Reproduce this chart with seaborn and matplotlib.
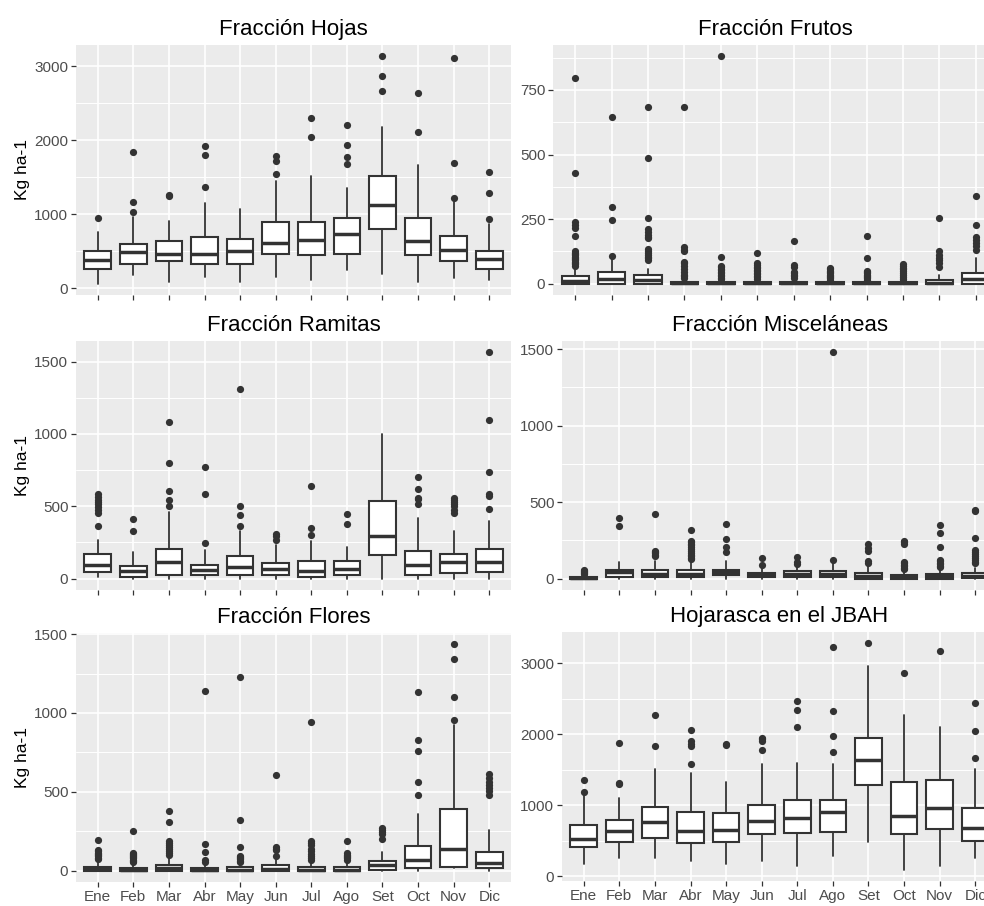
import numpy as np
import pandas as pd
import matplotlib.pyplot as plt
import seaborn as sns
from matplotlib.ticker import MultipleLocator

# ─── Datos (Kg ha-1 por mes) ───
months = ['Ene', 'Feb', 'Mar', 'Abr', 'May', 'Jun', 'Jul', 'Ago', 'Set', 'Oct', 'Nov', 'Dic']

# Fracción Hojas
hojas_lo  = [59, 172, 81, 149, 81, 149, 104, 249, 195, 81, 136, 113]
hojas_q1  = [253, 326, 371, 326, 326, 466, 443, 466, 796, 443, 371, 253]
hojas_med = [376, 489, 466, 466, 498, 602, 652, 724, 1122, 633, 511, 389]
hojas_q3  = [498, 593, 638, 688, 661, 896, 896, 941, 1516, 941, 706, 498]
hojas_hi  = [760, 960, 905, 1145, 1068, 1448, 1520, 1357, 2181, 1665, 1167, 860]
hojas_out = [[950], [1833, 1167, 1032], [1260, 1240], [1920, 1800, 1360], [],
             [1787, 1710, 1543], [2303, 2041], [2208, 1928, 1769, 1679],
             [3131, 2869, 2661], [2633, 2113], [3104, 1683, 1217], [1566, 1285, 932]]

# Fracción Frutos
frutos_lo  = [0, 0, 0, 0, 0, 0, 0, 0, 0, 0, 0, 0]
frutos_q1  = [0, 0, 0, 0, 0, 0, 0, 0, 0, 0, 0, 0]
frutos_med = [12, 18, 16, 2, 1, 1, 1, 1, 1, 1, 3, 18]
frutos_q3  = [28, 45, 35, 8, 6, 6, 6, 5, 6, 5, 14, 42]
frutos_hi  = [65, 100, 55, 18, 15, 14, 14, 12, 14, 12, 32, 100]
frutos_out = [[795, 430, 240, 228, 215, 185, 125, 120, 115, 110, 105, 100, 95, 90, 85, 80, 75, 70],
              [645, 295, 245, 108],
              [685, 485, 255, 210, 200, 190, 180, 175, 135, 128, 120, 112, 105, 98, 92],
              [685, 140, 132, 125, 85, 78, 70, 55, 45, 35, 28, 22],
              [880, 105, 70, 64, 58, 52, 46, 40, 34, 28, 22, 18],
              [120, 78, 72, 66, 60, 54, 48, 42, 36, 30, 24, 18],
              [165, 72, 66, 45, 40, 35, 28, 22],
              [60, 55, 50, 45, 40, 35, 30, 25, 20, 15],
              [185, 100, 50, 45, 40, 35, 30, 25, 20, 16],
              [75, 70, 62, 55, 48, 40, 32, 25, 18, 12],
              [255, 128, 112, 100, 90, 78, 65],
              [340, 228, 182, 170, 158, 145, 130]]

# Fracción Ramitas
ramitas_lo  = [9, 0, 0, 0, 0, 0, 0, 0, 0, 0, 0, 0]
ramitas_q1  = [46, 9, 23, 23, 23, 23, 9, 23, 165, 23, 39, 46]
ramitas_med = [92, 55, 115, 62, 78, 67, 55, 67, 298, 92, 112, 112]
ramitas_q3  = [170, 85, 204, 96, 158, 108, 119, 119, 539, 193, 170, 204]
ramitas_hi  = [266, 183, 459, 200, 330, 230, 257, 218, 1002, 422, 326, 399]
ramitas_out = [[583, 565, 545, 532, 515, 495, 475, 452, 365],
               [413, 330],
               [1085, 798, 606, 545, 505],
               [773, 583, 248],
               [1314, 500, 438, 365],
               [312, 295, 266],
               [642, 349, 303],
               [450, 376],
               [],
               [702, 617, 560, 550, 516],
               [560, 545, 530, 515, 500, 475, 452],
               [1564, 1096, 736, 582, 570, 484]]

# Fracción Misceláneas
misc_lo  = [0, 0, 0, 0, 0, 0, 0, 0, 0, 0, 0, 0]
misc_q1  = [0, 9, 9, 9, 22, 9, 9, 9, 0, 0, 0, 4]
misc_med = [3, 43, 30, 30, 43, 22, 30, 30, 15, 9, 15, 20]
misc_q3  = [12, 59, 59, 59, 59, 37, 48, 48, 37, 26, 30, 37]
misc_hi  = [25, 107, 113, 124, 113, 70, 80, 113, 85, 50, 60, 70]
misc_out = [[60, 52, 45, 38, 32],
            [400, 345],
            [425, 180, 172, 165, 158, 150],
            [320, 245, 238, 230, 222, 210, 195, 180, 168, 158, 148, 138, 130],
            [360, 260, 205, 172],
            [132, 88],
            [142, 112, 98],
            [1480, 120],
            [225, 200, 183, 113, 105],
            [245, 238, 228, 112, 100, 90, 80, 70, 62],
            [350, 300, 210, 125, 115, 105, 95, 85, 75],
            [450, 440, 268, 185, 172, 160, 148, 135, 122, 110, 100]]

# Fracción Flores
flores_lo  = [0, 0, 0, 0, 0, 0, 0, 0, 0, 0, 15, 0]
flores_q1  = [0, 0, 0, 0, 0, 0, 0, 0, 4, 15, 25, 15]
flores_med = [8, 4, 19, 3, 5, 10, 5, 5, 36, 67, 135, 46]
flores_q3  = [25, 15, 36, 15, 25, 35, 25, 25, 61, 158, 390, 116]
flores_hi  = [60, 35, 88, 35, 60, 85, 60, 60, 120, 362, 925, 261]
flores_out = [[195, 130, 122, 114, 106, 98, 90, 82, 75],
              [250, 115, 108, 100, 92, 85, 78, 70, 62, 55],
              [380, 310, 185, 175, 165, 150, 135, 122, 110, 100],
              [1140, 172, 120, 65, 55],
              [1230, 320, 152, 95, 88, 80, 72, 64, 56],
              [605, 150, 140, 130, 95],
              [945, 190, 175, 160, 140, 122, 105, 90, 78, 65],
              [187, 110, 102, 94, 86, 78, 70],
              [270, 258, 245, 232, 198],
              [1135, 826, 758, 560, 482],
              [1435, 1342, 1100, 956],
              [611, 585, 565, 545, 525, 505, 482]]

# Hojarasca total en el JBAH
total_lo  = [169, 263, 263, 216, 169, 216, 141, 287, 489, 94, 141, 263]
total_q1  = [414, 489, 536, 465, 489, 592, 616, 625, 1283, 592, 663, 498]
total_med = [531, 639, 766, 639, 658, 780, 827, 903, 1636, 856, 969, 686]
total_q3  = [719, 790, 983, 912, 889, 1011, 1081, 1081, 1946, 1330, 1354, 959]
total_hi  = [1157, 1110, 1509, 1462, 1335, 1580, 1603, 1580, 2957, 2271, 2097, 1509]
total_out = [[1363, 1194], [1881, 1321, 1300], [2276, 1829],
             [2055, 1900, 1862, 1830, 1589], [1871, 1850], [1950, 1932, 1905, 1782],
             [2473, 2346, 2102], [3235, 2323, 1979, 1758], [3282], [2863], [3178],
             [2445, 2050, 1660]]

# ─── Estilo tipo ggplot ───
sns.set_theme(style='darkgrid', rc={'axes.facecolor': '#EBEBEB', 'grid.color': 'white'})
plt.rcParams['font.family'] = ['Liberation Sans', 'DejaVu Sans']

dark = '#333333'
W, H = 984, 906
fig = plt.figure(figsize=(W / 100, H / 100), dpi=100)


def add_panel(x0, y0, x1, y1):
    return fig.add_axes([x0 / W, 1 - y1 / H, (x1 - x0) / W, (y1 - y0) / H])


def draw(ax, title, lo, q1, med, q3, hi, out, step, ylabel, xlabels):
    stats = [dict(whislo=a, q1=b, med=c, q3=d, whishi=e, fliers=[])
             for a, b, c, d, e in zip(lo, q1, med, q3, hi)]
    fl = pd.DataFrame({'mes': [m for m, vals in zip(months, out) for _ in vals],
                       'valor': [v for vals in out for v in vals]})
    sns.stripplot(data=fl, x='mes', y='valor', order=months, jitter=False,
                  color=dark, size=5.2, linewidth=0, ax=ax, zorder=4)
    ax.bxp(stats, positions=range(len(months)), widths=0.75, showfliers=False,
           showcaps=False, patch_artist=True, manage_ticks=False,
           boxprops=dict(facecolor='white', edgecolor=dark, linewidth=1.5),
           medianprops=dict(color=dark, linewidth=2.5),
           whiskerprops=dict(color=dark, linewidth=1.3))

    allv = lo + hi + [v for vals in out for v in vals]
    span = max(allv) - min(allv)
    ax.set_ylim(min(allv) - 0.05 * span, max(allv) + 0.05 * span)
    ax.set_xlim(-0.61, len(months) - 0.39)
    ax.yaxis.set_major_locator(MultipleLocator(step))
    ax.yaxis.set_minor_locator(MultipleLocator(step / 2))
    ax.grid(True, which='major', color='white', linewidth=1.2)
    ax.grid(True, which='minor', axis='y', color='white', linewidth=0.7)
    ax.set_axisbelow(True)
    for s in ax.spines.values():
        s.set_visible(False)

    ax.tick_params(which='major', bottom=True, left=True, length=3.5, width=0.9,
                   color=dark, labelsize=11, labelcolor='#4D4D4D', pad=2)
    ax.tick_params(which='minor', length=0)
    ax.tick_params(axis='x', labelbottom=xlabels)
    ax.set_xlabel('')
    ax.set_title(title, fontsize=16, color='black', pad=7)
    if ylabel:
        ax.set_ylabel('Kg ha-1', fontsize=12.5, color='black')
        ax.yaxis.set_label_coords(-0.106, 0.5)
    else:
        ax.set_ylabel('')


draw(add_panel(76, 45, 511, 295), 'Fracción Hojas',
     hojas_lo, hojas_q1, hojas_med, hojas_q3, hojas_hi, hojas_out, 1000, True, False)
draw(add_panel(553, 45, 998, 295), 'Fracción Frutos',
     frutos_lo, frutos_q1, frutos_med, frutos_q3, frutos_hi, frutos_out, 250, False, False)
draw(add_panel(76, 341, 511, 590), 'Fracción Ramitas',
     ramitas_lo, ramitas_q1, ramitas_med, ramitas_q3, ramitas_hi, ramitas_out, 500, True, False)
draw(add_panel(562, 341, 997, 590), 'Fracción Misceláneas',
     misc_lo, misc_q1, misc_med, misc_q3, misc_hi, misc_out, 500, False, False)
draw(add_panel(76, 633, 511, 882), 'Fracción Flores',
     flores_lo, flores_q1, flores_med, flores_q3, flores_hi, flores_out, 500, True, True)
draw(add_panel(562, 632, 997, 881), 'Hojarasca en el JBAH',
     total_lo, total_q1, total_med, total_q3, total_hi, total_out, 1000, False, True)

fig.savefig('out.png', dpi=100)
print("Saved: out.png")
